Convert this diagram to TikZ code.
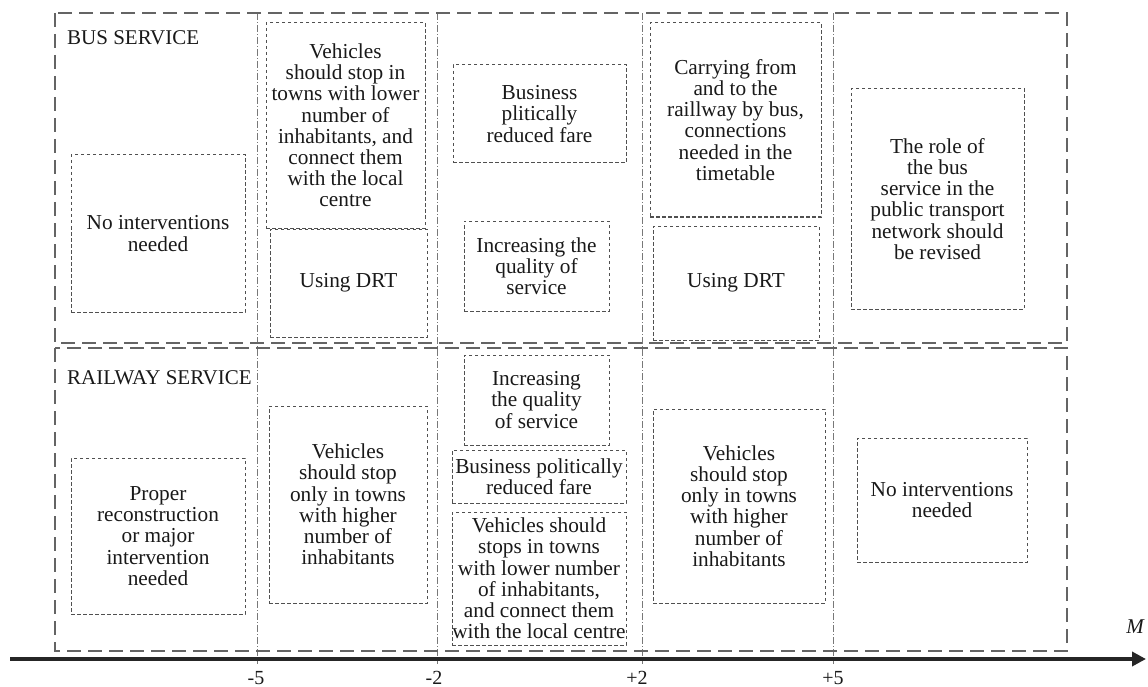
\documentclass[tikz,border=0pt]{standalone}
\usepackage{fontspec}
\setmainfont{Liberation Serif}
\usetikzlibrary{arrows.meta}
\definecolor{framegray}{RGB}{100,100,100}
\definecolor{boxgray}{RGB}{80,80,80}
\definecolor{divgray}{RGB}{120,120,120}
\definecolor{textgray}{RGB}{25,25,25}
\newcommand\dbox[6]{\node[ibox, minimum width={#4-#2}, minimum height={#5-#3}] (#1) at ({(#2+#4)/2},{(#3+#5)/2}) {#6};}
\begin{document}
\begin{tikzpicture}[x=1pt,y=-1pt,
  frame/.style={draw=framegray, line width=2.7pt, dash pattern=on 14pt off 7pt},
  ibox/.style={draw=boxgray, line width=1pt, dash pattern=on 3.5pt off 2.5pt, inner sep=0pt, align=center, font=\fontsize{21.3}{21.2}\selectfont, text=textgray},
  divider/.style={draw=divgray, line width=0.8pt, dash pattern=on 7pt off 2pt on 1pt off 2pt},
  head/.style={anchor=west, inner sep=0pt, font=\fontsize{21}{21}\selectfont, text=textgray},
  tick/.style={inner sep=0pt, font=\fontsize{20}{20}\selectfont, text=textgray},
  axis/.style={draw=black!85, line width=4.8pt, -{Triangle[length=14pt,width=14pt]}}
]
\useasboundingbox (0,0) rectangle (1148,687);

% dividers
\foreach \n/\x in {a/257,b/437,c/642,d/833}{
  \coordinate (\n top) at (\x,13);
  \coordinate (\n bot) at (\x,664);
  \draw[divider] (\n top) -- (\n bot);
}

% frames
\draw[frame] (55,13) rectangle (1067,343);
\draw[frame] (55,348) rectangle (1067,651);

% axis
\coordinate (axL) at (10,659);
\coordinate (axR) at (1146,659);
\draw[axis] (axL) -- (axR);

\node[tick] (t1) at (256,678) {-5};
\node[tick] (t2) at (434,678) {-2};
\node[tick] (t3) at (637,678) {+2};
\node[tick] (t4) at (833,678) {+5};
\node[tick, font=\fontsize{21}{21}\selectfont\itshape] (M) at (1135,627) {M};

\node[head] (bus) at (67,38) {BUS SERVICE};
\node[head] (rail) at (67,378) {RAILWAY SERVICE};

% bus service boxes
\dbox{b1}{71}{155}{245}{312}{No interventions\\needed}
\dbox{b2}{266}{23}{425}{228}{Vehicles\\should stop in\\towns with lower\\number of\\inhabitants, and\\connect them\\with the local\\centre}
\dbox{b3}{270}{229}{427}{337}{Using DRT}
\dbox{b4}{453}{65}{626}{163}{Business\\plitically\\reduced fare}
\dbox{b5}{464}{221}{609}{311}{Increasing the\\quality of\\service}
\dbox{b6}{650}{23}{821}{217}{Carrying from\\and to the\\raillway by bus,\\connections\\needed in the\\timetable}
\dbox{b7}{653}{226}{819}{340}{Using DRT}
\dbox{b8}{851}{89}{1024}{309}{The role of\\the bus\\service in the\\public transport\\network should\\be revised}

% railway service boxes
\dbox{r1}{71}{458}{245}{614}{Proper\\reconstruction\\or major\\intervention\\needed}
\dbox{r2}{269}{406}{427}{603}{Vehicles\\should stop\\only in towns\\with higher\\number of\\inhabitants}
\dbox{r3}{464}{355}{609}{445}{Increasing\\the quality\\of service}
\dbox{r4}{452}{450}{626}{503}{Business politically\\reduced fare}
\dbox{r5}{452}{512}{626}{645}{Vehicles should\\stops in towns\\with lower number\\of inhabitants,\\and connect them\\with the local centre}
\dbox{r6}{653}{409}{825}{603}{Vehicles\\should stop\\only in towns\\with higher\\number of\\inhabitants}
\dbox{r7}{857}{438}{1027}{562}{No interventions\\needed}
\end{tikzpicture}
\end{document}
